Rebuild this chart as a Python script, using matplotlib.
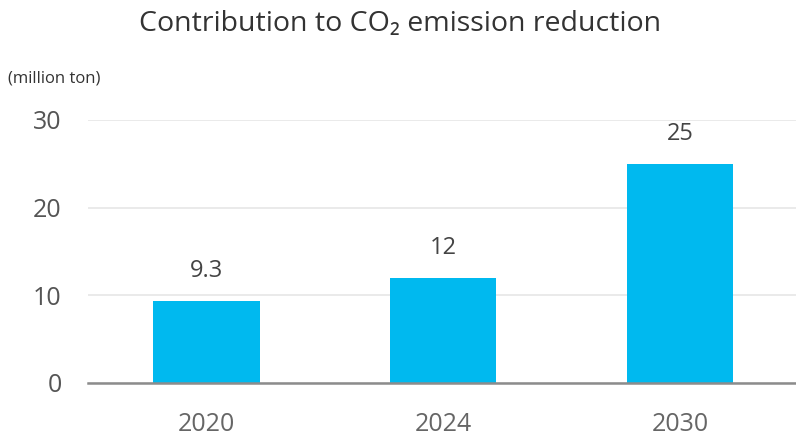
import matplotlib.pyplot as plt

plt.rcParams['font.family'] = ['Open Sans', 'DejaVu Sans']

# Datos
years = ['2020', '2024', '2030']
values = [9.3, 12, 25]
value_labels = ['9.3', '12', '25']
y_ticks = [0, 10, 20, 30]

fig = plt.figure(figsize=(7.96, 4.36), dpi=100)
ax = fig.add_axes([0.1106, 0.1216, 0.8894, 0.6032])

x = range(len(years))
bars = ax.bar(x, values, width=0.45, color='#00B9EF', zorder=3)

for xi, v, lab in zip(x, values, value_labels):
    ax.annotate(lab, (xi, v), xytext=(0, 13), textcoords='offset points',
                ha='center', va='bottom', fontsize=17, color='#444444')

ax.set_xlim(-0.5, 2.49)
ax.set_ylim(0, 30)
ax.set_xticks(list(x))
ax.set_xticklabels(years)
ax.set_yticks(y_ticks)

ax.tick_params(axis='x', length=0, pad=21, labelsize=18, labelcolor='#666666')
ax.tick_params(axis='y', length=0, pad=19, labelsize=18, labelcolor='#555555')

for s in ['top', 'right', 'left']:
    ax.spines[s].set_visible(False)
ax.spines['bottom'].set_color('#8c8c8c')
ax.spines['bottom'].set_linewidth(1.8)
ax.spines['bottom'].set_zorder(4)

ax.yaxis.grid(True, color='#e6e6e6', linewidth=1.2, zorder=0)
ax.set_axisbelow(True)

fig.text(0.503, 0.946, 'Contribution to CO₂ emission reduction',
         ha='center', va='center', fontsize=20.5, color='#333333')
fig.text(0.01, 0.82, '(million ton)', ha='left', va='center',
         fontsize=12, color='#333333')

fig.savefig('out.png', dpi=100)
